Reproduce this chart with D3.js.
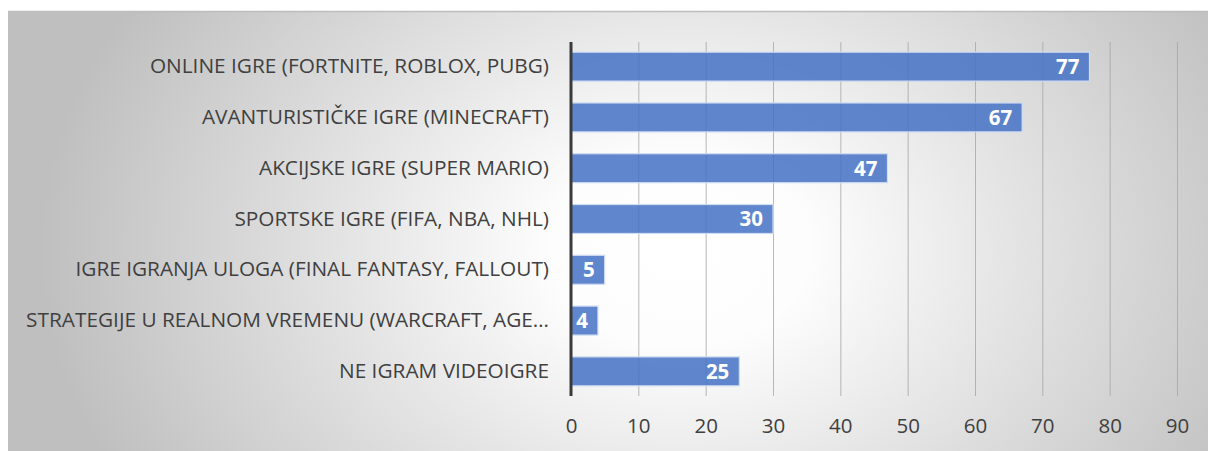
<!DOCTYPE html>
<html><head><meta charset="utf-8">
<script src="https://cdn.jsdelivr.net/npm/d3@7"></script>
<style>body{margin:0;background:#fff}svg{display:block}</style>
</head><body>
<svg id="c" width="1208" height="451"></svg>
<script>
const categories = [
  "ONLINE IGRE (FORTNITE, ROBLOX, PUBG)",
  "AVANTURISTIČKE IGRE (MINECRAFT)",
  "AKCIJSKE IGRE (SUPER MARIO)",
  "SPORTSKE IGRE (FIFA, NBA, NHL)",
  "IGRE IGRANJA ULOGA (FINAL FANTASY, FALLOUT)",
  "STRATEGIJE U REALNOM VREMENU (WARCRAFT, AGE…",
  "NE IGRAM VIDEOIGRE"
];
const values = [77, 67, 47, 30, 5, 4, 25];
const tickValues = [0, 10, 20, 30, 40, 50, 60, 70, 80, 90];

const svg = d3.select("#c");
const defs = svg.append("defs");
const g = defs.append("radialGradient").attr("id","bg")
  .attr("gradientUnits","userSpaceOnUse")
  .attr("cx",680).attr("cy",250).attr("r",640)
  .attr("gradientTransform","translate(680,250) scale(1,0.75) translate(-680,-250)");
g.append("stop").attr("offset",0).attr("stop-color","#ffffff");
g.append("stop").attr("offset",0.2).attr("stop-color","#fdfdfd");
g.append("stop").attr("offset",1).attr("stop-color","#bfbfbf");

svg.append("rect").attr("x",8).attr("y",11).attr("width",1200).attr("height",440).attr("fill","url(#bg)");
svg.append("line").attr("x1",8).attr("x2",1208).attr("y1",11.5).attr("y2",11.5).attr("stroke","#bdbdbd").attr("stroke-width",1.5);

const x = d3.scaleLinear().domain([0,90]).range([571,1177]);
const y = d3.scaleBand().domain(categories).range([42,396]).paddingInner(0.43).paddingOuter(0.2);

// gridlines
svg.append("g").selectAll("line").data(tickValues.slice(1)).join("line")
  .attr("x1",d=>x(d)+0.5).attr("x2",d=>x(d)+0.5).attr("y1",42).attr("y2",396)
  .attr("stroke","#a6a6a6").attr("stroke-width",1).attr("stroke-opacity",0.8);

// bars
svg.append("g").selectAll("rect").data(values).join("rect")
  .attr("x",x(0)).attr("y",(d,i)=>y(categories[i]))
  .attr("width",d=>x(d)-x(0)).attr("height",y.bandwidth())
  .attr("fill","#4472c4").attr("fill-opacity",0.85)
  .attr("stroke","#d0dcf2").attr("stroke-width",1.2);

// data labels
svg.append("g").selectAll("text").data(values).join("text")
  .attr("x",d=>x(d)-10).attr("y",(d,i)=>y(categories[i])+y.bandwidth()/2)
  .attr("dy","0.36em").attr("text-anchor","end")
  .attr("font-family","'Open Sans', sans-serif").attr("font-weight","bold").attr("font-size",20.5)
  .attr("fill","#ffffff").text(d=>d);

// category labels
const yAxis = d3.axisLeft(y).tickSize(0).tickPadding(22);
const ya = svg.append("g").attr("transform",`translate(${x(0)},0)`).call(yAxis);
ya.select(".domain").remove();
ya.selectAll("text").attr("font-family","'Open Sans', sans-serif").attr("font-size",20.8).attr("fill","#404040");

// axis line
svg.append("line").attr("x1",x(0)).attr("x2",x(0)).attr("y1",42).attr("y2",396)
  .attr("stroke","#3a3a3a").attr("stroke-width",3);

// x tick labels
const xAxis = d3.axisBottom(x).tickValues(tickValues).tickSize(0).tickPadding(22).tickFormat(d3.format("d"));
const xa = svg.append("g").attr("transform","translate(0,396)").call(xAxis);
xa.select(".domain").remove();
xa.selectAll("text").attr("font-family","'Open Sans', sans-serif").attr("font-size",20.5).attr("fill","#404040");
</script>
</body></html>
